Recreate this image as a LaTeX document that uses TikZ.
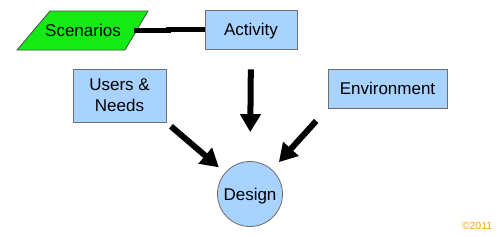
\documentclass[tikz,border=0pt]{standalone}
\usepackage{fontspec}
\setmainfont{Liberation Sans}
\usetikzlibrary{arrows.meta}
\definecolor{boxblue}{RGB}{168,210,255}
\definecolor{scengreen}{RGB}{20,235,20}
\definecolor{edgegray}{RGB}{110,110,110}
\definecolor{copyorange}{RGB}{255,160,20}
\tikzset{
  lbl/.style={font=\fontsize{17}{21}\selectfont, inner sep=0pt, align=center},
  box/.style={lbl, draw=edgegray, line width=0.8pt, fill=boxblue},
  oneline/.style={text depth=0pt},
  bigarrow/.style={line width=6pt, -{Triangle[width=20pt,length=18pt]}},
  link/.style={line width=5pt}
}
\begin{document}
\begin{tikzpicture}[x=1pt,y=-1pt]
\useasboundingbox[fill=white] (0,0) rectangle (500,236);
\draw[draw=black!70, line width=0.8pt, fill=scengreen] (17,50) -- (125,50) -- (148,11) -- (50,11) -- cycle;
\node[lbl, oneline, minimum width=102pt, minimum height=39pt] (scen) at (83,30.5) {Scenarios};
\node[box, oneline, minimum width=92pt, minimum height=39pt] (act) at (251,29.5) {Activity};
\node[box, minimum width=93pt, minimum height=53pt] (users) at (119.5,95.5) {Users \&\\Needs};
\node[box, oneline, minimum width=119pt, minimum height=39pt] (env) at (387.5,88.5) {Environment};
\node[lbl, oneline, circle, draw=edgegray, line width=0.8pt, fill=boxblue, minimum size=65pt] (des) at (250,194) {Design};
\node[text=copyorange, font=\fontsize{10.5}{12}\selectfont, inner sep=0pt] (copy) at (477,226) {©2011};
\coordinate (joint) at (168,30);
\draw[link] (scen.east) -| (joint) |- (act.west);
\draw[bigarrow, shorten <=20pt, shorten >=29pt] (act.south) -- (des.north);
\draw[bigarrow, shorten <=6pt, shorten >=41pt] (users.south east) -- (des.center);
\draw[bigarrow, shorten <=17pt, shorten >=43pt] (env.south west) -- (des.center);
\end{tikzpicture}
\end{document}
